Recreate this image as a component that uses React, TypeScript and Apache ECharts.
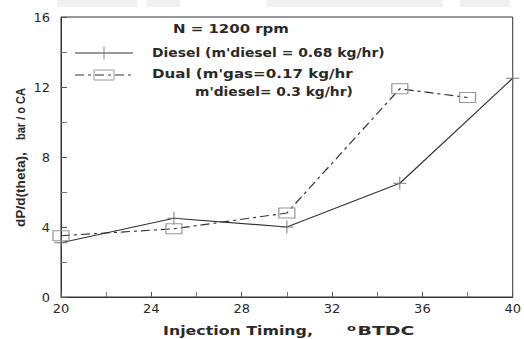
import React, { useEffect, useRef } from "react";
import * as echarts from "echarts";

// Injection timing (deg BTDC) and peak rate of pressure rise (bar / deg CA)
const dieselTiming = [20, 25, 30, 35, 40];
const dieselRate = [3.1, 4.5, 4.0, 6.5, 12.5];
const dualTiming = [20, 25, 30, 35, 38];
const dualRate = [3.5, 3.9, 4.8, 11.9, 11.4];

const xTicks = [20, 24, 28, 32, 36, 40];
const yTicks = [0, 4, 8, 12, 16];

const dieselLabel = "Diesel (m'diesel = 0.68 kg/hr)";
const dualLabel = "Dual (m'gas=0.17 kg/hr";
const dualLabel2 = "m'diesel= 0.3 kg/hr)";
const speedLabel = "N = 1200 rpm";
const yName1 = "dP/d(theta),";
const yName2 = "bar / o CA";

const FONT = "DejaVu Sans";
const NARROW = "Liberation Sans";
const INK = "#2a2a2a";

const PLUS = "path://M0,6L12,6M6,0L6,12";
const DASH_DOT = [9, 4, 3, 4];

// horizontal stretch needed for a string to span a given width
function stretch(text: string, font: string, width: number): number {
  const ctx = document.createElement("canvas").getContext("2d");
  if (!ctx) return 1;
  ctx.font = font;
  const w = ctx.measureText(text).width;
  return w > 0 ? width / w : 1;
}

function boldText(
  text: string,
  x: number,
  y: number,
  size: number,
  width: number,
  family = FONT,
  rotation = 0
) {
  return {
    type: "text",
    x,
    y,
    rotation,
    scaleX: stretch(text, `bold ${size}px "${family}"`, width),
    style: {
      text,
      fontFamily: family,
      fontSize: size,
      fontWeight: "bold",
      fill: INK,
      align: "left",
      verticalAlign: "middle",
    },
  };
}

export default function App() {
  const ref = useRef<HTMLDivElement>(null);

  useEffect(() => {
    if (!ref.current) return;
    const chart = echarts.init(ref.current, undefined, { renderer: "svg" });

    const toPairs = (xs: number[], ys: number[]) => xs.map((x, i) => [x, ys[i]]);

    chart.setOption({
      animation: false,
      backgroundColor: "#ffffff",
      grid: {
        left: 61,
        right: 4,
        top: 17,
        bottom: 42,
        show: true,
        borderColor: "#333",
        borderWidth: 1,
        backgroundColor: "transparent",
      },
      xAxis: {
        type: "value",
        min: xTicks[0],
        max: xTicks[xTicks.length - 1],
        interval: 4,
        axisLine: { lineStyle: { color: "#333", width: 1 } },
        axisTick: { inside: true, length: 5, lineStyle: { color: "#555" } },
        minorTick: { show: true, splitNumber: 2, length: 5, lineStyle: { color: "#777" } },
        splitLine: { show: false },
        axisLabel: {
          margin: 5,
          fontFamily: FONT,
          fontSize: 13,
          color: INK,
        },
      },
      yAxis: {
        type: "value",
        min: yTicks[0],
        max: yTicks[yTicks.length - 1],
        interval: 4,
        axisLine: { show: true, lineStyle: { color: "#333", width: 1 } },
        axisTick: { inside: true, length: 6, lineStyle: { color: "#555" } },
        minorTick: { show: true, splitNumber: 2, length: 6, lineStyle: { color: "#777" } },
        splitLine: { show: false },
        axisLabel: {
          margin: 11,
          fontFamily: FONT,
          fontSize: 13,
          color: INK,
        },
      },
      graphic: [
        // faint band along the top edge of the sheet
        { type: "rect", shape: { x: 57, y: 0, width: 80, height: 7 }, style: { fill: "#f0f0f0" } },
        { type: "rect", shape: { x: 147, y: 0, width: 33, height: 7 }, style: { fill: "#f0f0f0" } },
        { type: "rect", shape: { x: 267, y: 0, width: 176, height: 7 }, style: { fill: "#f0f0f0" } },
        { type: "rect", shape: { x: 460, y: 0, width: 50, height: 7 }, style: { fill: "#f0f0f0" } },

        // operating condition and legend
        boldText(speedLabel, 173, 29, 12, 116),
        {
          type: "line",
          shape: { x1: 75, y1: 53, x2: 133, y2: 53 },
          style: { stroke: "#333", lineWidth: 1.2 },
        },
        {
          type: "line",
          shape: { x1: 104, y1: 46.5, x2: 104, y2: 59.5 },
          style: { stroke: "#888", lineWidth: 1 },
        },
        boldText(dieselLabel, 152, 53, 12, 233),
        {
          type: "line",
          shape: { x1: 75, y1: 75, x2: 133, y2: 75 },
          style: { stroke: "#333", lineWidth: 1.2, lineDash: DASH_DOT },
        },
        {
          type: "rect",
          shape: { x: 94, y: 70, width: 20, height: 10 },
          style: { fill: "none", stroke: "#999", lineWidth: 1 },
        },
        boldText(dualLabel, 152, 74, 12, 201),
        boldText(dualLabel2, 195, 92, 12, 158),

        // y-axis title, read bottom to top
        boldText(yName1, 21, 227, 12, 75, NARROW, Math.PI / 2),
        boldText(yName2, 21, 140, 12, 52, NARROW, Math.PI / 2),

        // x-axis title
        boldText("Injection Timing,", 163, 331, 13, 150),
        {
          type: "text",
          x: 347,
          y: 331,
          scaleX: stretch("oBTDC", `bold 13px "${FONT}"`, 70),
          style: {
            text: "{s|o}{n|BTDC}",
            rich: {
              n: { fontFamily: FONT, fontSize: 13, fontWeight: "bold", fill: INK },
              s: {
                fontFamily: FONT,
                fontSize: 9,
                fontWeight: "bold",
                fill: INK,
                verticalAlign: "top",
                padding: [0, 1, 5, 0],
              },
            },
            align: "left",
            verticalAlign: "middle",
          },
        },
      ],
      series: [
        {
          name: dieselLabel,
          type: "line",
          data: toPairs(dieselTiming, dieselRate),
          symbol: PLUS,
          symbolSize: 13,
          showSymbol: true,
          lineStyle: { color: "#333", width: 1.2, type: "solid" },
          itemStyle: { color: "transparent", borderColor: "#777", borderWidth: 1 },
        },
        {
          name: dualLabel,
          type: "line",
          data: toPairs(dualTiming, dualRate),
          symbol: "rect",
          symbolSize: [16, 10],
          showSymbol: true,
          lineStyle: { color: "#333", width: 1.2, type: DASH_DOT },
          itemStyle: { color: "transparent", borderColor: "#999", borderWidth: 1 },
        },
      ],
    });

    return () => chart.dispose();
  }, []);

  return (
    <div
      ref={ref}
      style={{ position: "absolute", left: 0, top: 0, width: 524, height: 339 }}
    />
  );
}
